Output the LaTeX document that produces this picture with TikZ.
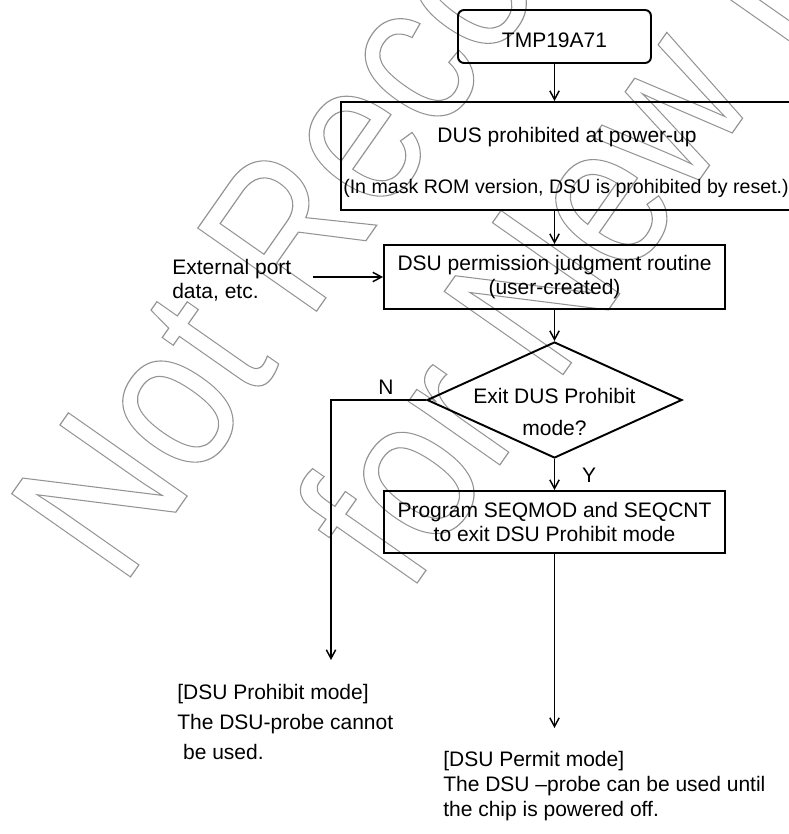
\documentclass[tikz,border=0pt]{standalone}
\usepackage{fontspec}
\setmainfont{Liberation Sans}
\usetikzlibrary{arrows.meta,shapes.geometric}
\begin{document}
\begin{tikzpicture}[x=0.75pt,y=-0.75pt,
  every node/.style={inner sep=0pt},
  lbl/.style={font=\fontsize{15.75pt}{18pt}\selectfont},
  box/.style={draw, line width=1.45pt, lbl, align=center},
  conn/.style={line width=1.3pt, -{Straight Barb[length=6.5pt,width=7pt,line width=1.1pt]}},
  wm/.style={text=black!42, font=\fontsize{158pt}{180pt}\selectfont, rotate=55, xscale=0.84, anchor=base west, inner sep=0pt}]
\useasboundingbox (0,0) rectangle (788,834);
% watermark (outlined text)
\begin{scope}
\node[wm] (wm1) at (122,589) {\special{pdf:literal direct 0.9 w 1 Tr}Not Recommended\special{pdf:literal direct 0 Tr}};
\node[wm] (wm2) at (408,596) {\special{pdf:literal direct 0.9 w 1 Tr}for New Design\special{pdf:literal direct 0 Tr}};
\end{scope}
% boxes
\node[box, rounded corners=4.5pt, minimum width=144.75pt, minimum height=39.75pt, text height=16.5pt, text depth=0pt] (tmp) at (554.5,36.5) {TMP19A71};
\node[box, minimum width=339pt, minimum height=81pt] (b2) at (567,156) {};
\node[lbl] (b2a) at (567,137) {DUS prohibited at power-up};
\node[font=\fontsize{14.7pt}{18pt}\selectfont] (b2b) at (566,188) {(In mask ROM version, DSU is prohibited by reset.)};
\node[box, minimum width=255.75pt, minimum height=48pt] (b3) at (554.5,277) {DSU permission judgment routine\\(user-created)};
\node[draw, line width=1.45pt, diamond, minimum width=191.25pt, minimum height=87pt] (d) at (554.5,400) {};
\node[lbl, align=center, font=\fontsize{15.75pt}{24pt}\selectfont] (dt) at (554.5,412) {Exit DUS Prohibit\\mode?};
\node[box, minimum width=255.75pt, minimum height=46.5pt] (b4) at (554.5,522) {Program SEQMOD and SEQCNT\\to exit DSU Prohibit mode};
\node[lbl, align=left, anchor=west] (ext) at (172,280) {External port\\data, etc.};
\node[lbl] (nl) at (386,387) {N};
\node[lbl] (yl) at (589,475) {Y};
\node[align=left, anchor=west, font=\fontsize{15.75pt}{22.5pt}\selectfont] (proh) at (177,722) {[DSU Prohibit mode]\\The DSU-probe cannot\\\ be used.};
\node[align=left, anchor=west, font=\fontsize{15.75pt}{19pt}\selectfont] (perm) at (443,786) {[DSU Permit mode]\\The DSU --probe can be used until\\the chip is powered off.};
\coordinate (extstart) at (313,277);
\coordinate (nend) at (331,660);
\coordinate (pend) at (554.5,728);
% connectors
\draw[conn] (tmp.south) -- (tmp.south |- b2.north);
\draw[conn] (b3.north |- b2.south) -- (b3.north);
\draw[conn] (extstart) -- (b3.west);
\draw[conn] (b3.south) -- (d.north);
\draw[conn] (d.south) -- (b4.north);
\draw[conn] (d.west) -| (nend);
\draw[conn] (b4.south) -- (pend);
\end{tikzpicture}
\end{document}
